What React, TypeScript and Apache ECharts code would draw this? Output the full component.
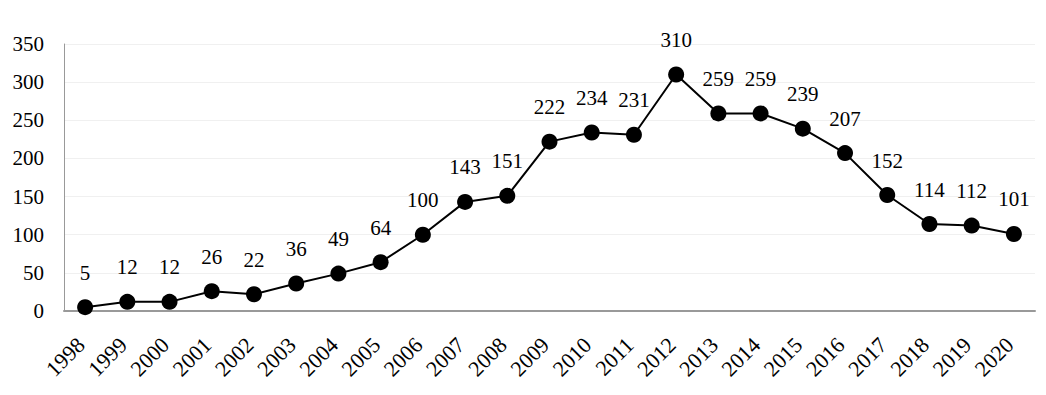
import React, { useEffect, useRef } from "react";
import * as echarts from "echarts";

const years = ["1998","1999","2000","2001","2002","2003","2004","2005","2006","2007","2008","2009","2010","2011","2012","2013","2014","2015","2016","2017","2018","2019","2020"];
const counts = [5,12,12,26,22,36,49,64,100,143,151,222,234,231,310,259,259,239,207,152,114,112,101];

const FONT = "'Liberation Serif', 'Times New Roman', serif";

export default function App() {
  const ref = useRef<HTMLDivElement>(null);
  useEffect(() => {
    const chart = echarts.init(ref.current!, null, { renderer: "svg" });
    chart.setOption({
      animation: false,
      grid: { left: 56, right: 11, top: 36, bottom: 92, containLabel: false },
      xAxis: {
        type: "category",
        data: years,
        boundaryGap: true,
        axisLine: { lineStyle: { color: "#999", width: 2 } },
        axisTick: { show: false },
        axisLabel: { rotate: 45, color: "#000", fontFamily: FONT, fontSize: 22, margin: 26, padding: [0, 6, 0, 0] },
      },
      yAxis: {
        type: "value",
        min: 0,
        max: 350,
        interval: 50,
        axisLine: { show: true, lineStyle: { color: "#999", width: 1 } },
        axisTick: { show: false },
        splitLine: { lineStyle: { color: "#f0f0f0", width: 1 } },
        axisLabel: { color: "#000", fontFamily: FONT, fontSize: 21, margin: 20 },
      },
      series: [
        {
          type: "line",
          data: counts,
          symbol: "circle",
          symbolSize: 16,
          itemStyle: { color: "#000" },
          lineStyle: { color: "#000", width: 2 },
          label: { show: true, position: "top", distance: 16, color: "#000", fontFamily: FONT, fontSize: 21 },
        },
      ],
    });
    return () => chart.dispose();
  }, []);
  return <div ref={ref} style={{ width: 1038, height: 395 }} />;
}
